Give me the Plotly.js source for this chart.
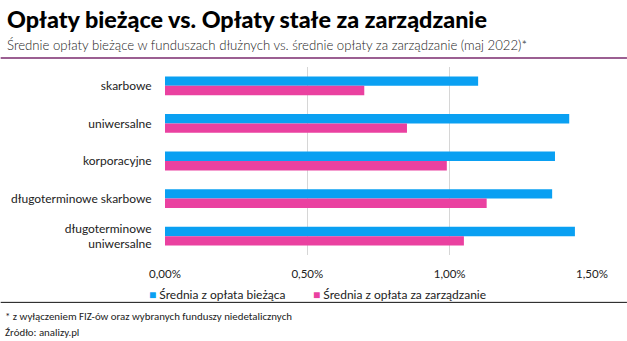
<!DOCTYPE html>
<html>
<head>
<meta charset="utf-8">
<script src="https://cdn.plot.ly/plotly-3.0.1.min.js"></script>
<style>html,body{margin:0;padding:0;background:#fff;}#chart{width:627px;height:341px;}</style>
</head>
<body>
<div id="chart"></div>
<script>
const categories = ["skarbowe", "uniwersalne", "korporacyjne", "długoterminowe skarbowe", "długoterminowe<br>uniwersalne"];
const seriesNames = ["Średnia z opłata bieżąca", "Średnia z opłata za zarządzanie"];
const biezaca = [0.0110, 0.0142, 0.0137, 0.0136, 0.0144];
const zarzadzanie = [0.0070, 0.0085, 0.0099, 0.0113, 0.0105];
const tickVals = [0, 0.005, 0.010, 0.015];
const colors = ["#0aa0f2", "#ea41a0"];
const titleText = "Opłaty bieżące vs. Opłaty stałe za zarządzanie";
const subtitleText = "Średnie opłaty bieżące w funduszach dłużnych vs. średnie opłaty za zarządzanie (maj 2022)*";
const footnoteText = "* z wyłączeniem FIZ-ów oraz wybranych funduszy niedetalicznych";
const sourceText = "Źródło: analizy.pl";

const W = 627, H = 341;
const L = 164.5, R = 592, T = 67, B = 255.5;
const px = x => (x - L) / (R - L);
const py = y => (B - y) / (B - T);

const bodyFont = "Lato, 'Open Sans', sans-serif";
const noteFont = "Carlito, 'Liberation Sans', sans-serif";

// fit a font size so the text spans a target pixel width
const ctx = document.createElement("canvas").getContext("2d");
function fitSize(text, family, weight, target) {
  ctx.font = weight + " 100px " + family;
  const w = ctx.measureText(text).width;
  return 100 * target / w;
}
const titleSize = Math.min(27, fitSize(titleText, bodyFont, 900, 482));
const subSize = Math.min(15, fitSize(subtitleText, bodyFont, 300, 522));
const noteSize = Math.min(12, fitSize(footnoteText, noteFont, 400, 287));

const traces = [biezaca, zarzadzanie].map((vals, i) => ({
  type: "bar",
  orientation: "h",
  name: seriesNames[i],
  y: categories,
  x: vals,
  marker: {color: colors[i]},
  showlegend: false,
  hoverinfo: "x+y"
}));

const legendX = [147, 312];
const annotations = [
  {text: subtitleText,
   xref: "paper", yref: "paper", x: px(4), y: py(45), xanchor: "left", yanchor: "middle",
   showarrow: false, font: {family: bodyFont, size: subSize, color: "#222", weight: 300}},
  {text: footnoteText,
   xref: "paper", yref: "paper", x: px(2), y: py(317), xanchor: "left", yanchor: "middle",
   showarrow: false, font: {family: noteFont, size: noteSize, color: "#222"}},
  {text: sourceText,
   xref: "paper", yref: "paper", x: px(2), y: py(333), xanchor: "left", yanchor: "middle",
   showarrow: false, font: {family: noteFont, size: noteSize, color: "#222"}}
];
seriesNames.forEach((n, i) => {
  annotations.push({
    text: '<span style="color:' + colors[i] + '">■</span> ' + n,
    xref: "paper", yref: "paper", x: px(legendX[i] - 1), y: py(295), xanchor: "left", yanchor: "middle",
    showarrow: false, font: {family: bodyFont, size: 12, color: "#222"}
  });
});

const layout = {
  width: W, height: H,
  margin: {l: L, r: W - R, t: T, b: H - B},
  paper_bgcolor: "#fff", plot_bgcolor: "#fff",
  separators: ", ",
  barmode: "group",
  bargap: 0.5,
  bargroupgap: 0,
  title: {
    text: titleText,
    x: 7 / W, xanchor: "left", xref: "container",
    y: 1 - 20 / H, yanchor: "middle", yref: "container",
    font: {family: bodyFont, size: titleSize, color: "#000", weight: 900}
  },
  xaxis: {
    range: [0, 0.015],
    tickvals: tickVals,
    tickformat: ".2%",
    showgrid: true, gridcolor: "#d6d6d6", gridwidth: 1,
    zeroline: false, showline: false,
    ticks: "outside", ticklen: 8, tickcolor: "rgba(0,0,0,0)",
    tickfont: {family: bodyFont, size: 11.5, color: "#222"},
    fixedrange: true
  },
  yaxis: {
    autorange: "reversed",
    type: "category",
    showgrid: false, zeroline: false, showline: false,
    ticks: "outside", ticklen: 10, tickcolor: "rgba(0,0,0,0)",
    tickfont: {family: bodyFont, size: 12, color: "#222"},
    fixedrange: true
  },
  shapes: [
    {type: "line", xref: "paper", yref: "paper", x0: px(0), x1: px(W), y0: py(58), y1: py(58),
     line: {color: "#7a2a6e", width: 1.5}},
    {type: "line", xref: "paper", yref: "paper", x0: px(0), x1: px(W), y0: py(303), y1: py(303),
     line: {color: "#111", width: 1}}
  ],
  annotations: annotations,
  showlegend: false
};

Plotly.newPlot("chart", traces, layout, {displayModeBar: false, staticPlot: true});
</script>
</body>
</html>
